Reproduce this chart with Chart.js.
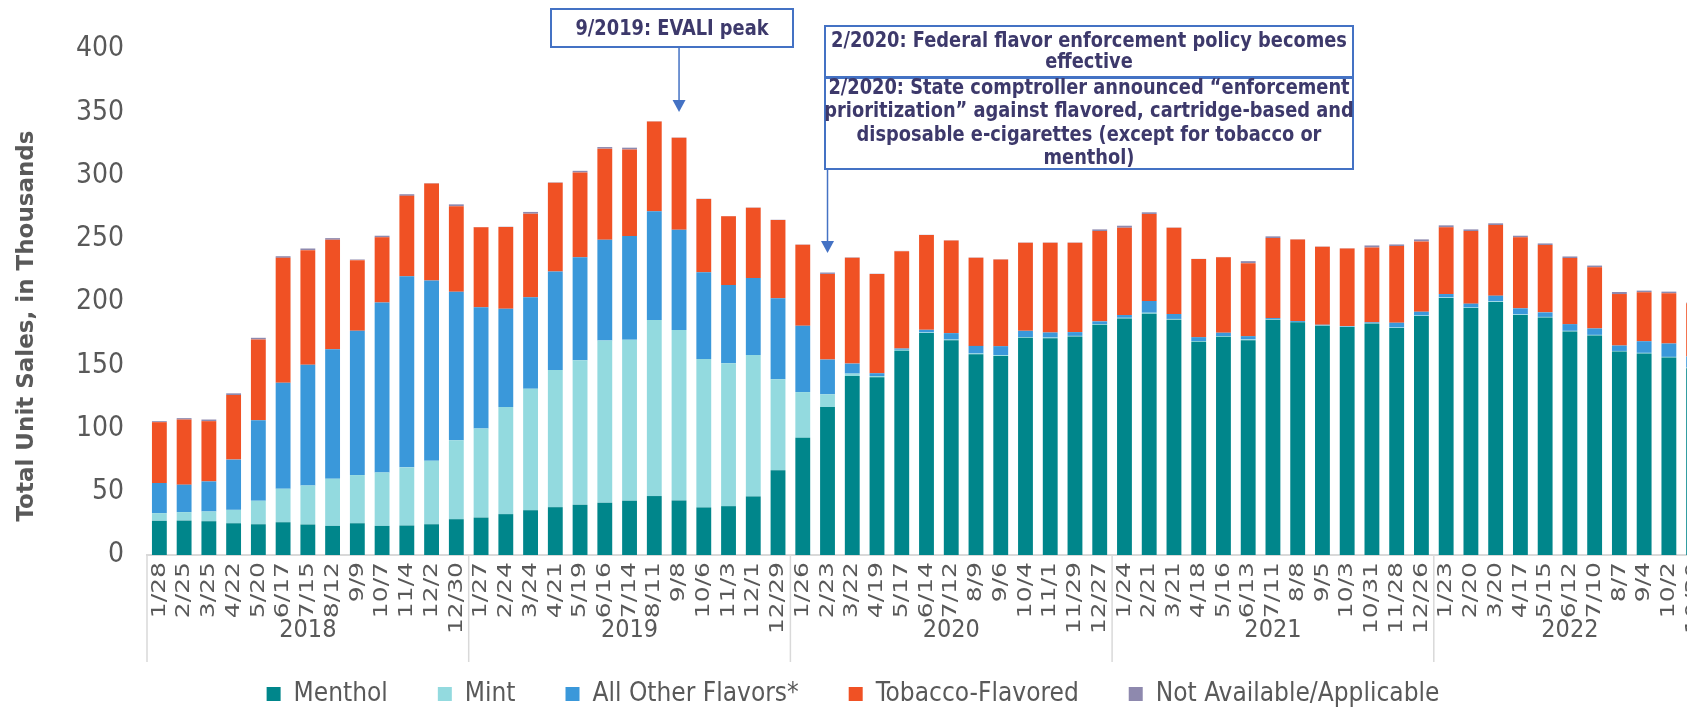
<!DOCTYPE html>
<html>
<head>
<meta charset="utf-8">
<script src="https://cdn.jsdelivr.net/npm/chart.js@4.4.1/dist/chart.umd.min.js"></script>
<style>
  html, body { margin: 0; padding: 0; background: #fff; overflow: hidden; }
  #frame { position: relative; width: 1687px; height: 708px; overflow: hidden; }
  #wrap { position: absolute; left: 0; top: 0; width: 1720px; height: 717px; }
</style>
</head>
<body>
<div id="frame"><div id="wrap"><canvas id="salesChart"></canvas></div></div>
<script>
// 4-week periods, grouped by year
var dates = [
  '1/28', '2/25', '3/25', '4/22', '5/20', '6/17', '7/15', '8/12', '9/9', '10/7', '11/4', '12/2', '12/30',
  '1/27', '2/24', '3/24', '4/21', '5/19', '6/16', '7/14', '8/11', '9/8', '10/6', '11/3', '12/1', '12/29',
  '1/26', '2/23', '3/22', '4/19', '5/17', '6/14', '7/12', '8/9', '9/6', '10/4', '11/1', '11/29', '12/27',
  '1/24', '2/21', '3/21', '4/18', '5/16', '6/13', '7/11', '8/8', '9/5', '10/3', '10/31', '11/28', '12/26',
  '1/23', '2/20', '3/20', '4/17', '5/15', '6/12', '7/10', '8/7', '9/4', '10/2', '10/30'
];
var years = ['2018', '2019', '2020', '2021', '2022'];
var periodsPerYear = [13, 13, 13, 13, 11];

// unit sales, thousands
var menthol = [
  27.0, 27.2, 26.7, 25.1, 24.3, 25.9, 24.1, 23.0, 25.1, 23.0, 23.3, 24.3, 28.3,
  29.6, 32.3, 35.4, 37.8, 39.7, 41.3, 42.9, 46.6, 43.1, 37.6, 38.6, 46.3, 66.9,
  92.6, 116.9, 141.5, 140.5, 161.4, 175.4, 169.8, 158.7, 157.4, 171.7, 171.4, 172.8, 182.0,
  187.0, 190.7, 186.0, 168.5, 172.5, 169.8, 186.0, 183.9, 181.2, 180.2, 183.1, 179.4, 188.9,
  203.2, 195.2, 200.0, 189.7, 187.8, 176.7, 173.5, 160.8, 159.3, 156.1, 147.6
];
var mint = [
  6.1, 6.7, 7.7, 10.6, 18.6, 26.5, 30.9, 37.3, 38.1, 42.3, 46.0, 50.3, 62.4,
  70.4, 84.6, 96.1, 108.5, 114.3, 128.3, 127.2, 139.1, 134.7, 117.4, 113.0, 111.9, 72.0,
  36.2, 10.1, 1.9, 1.0, 0.8, 0.5, 0.5, 0.6, 0.7, 0.6, 0.5, 0.4, 0.5,
  0.5, 0.8, 0.6, 0.6, 0.6, 0.6, 0.4, 0.3, 0.3, 0.3, 0.3, 0.4, 0.4,
  0.4, 0.4, 0.5, 0.5, 0.4, 0.5, 0.5, 0.5, 0.5, 0.5, 0.5
];
var otherFlavors = [
  23.8, 21.7, 23.8, 39.7, 63.7, 83.8, 95.3, 102.4, 114.0, 134.4, 151.1, 142.3, 117.5,
  95.8, 77.8, 72.2, 77.8, 81.4, 79.6, 82.0, 86.0, 79.3, 68.5, 61.9, 60.8, 64.0,
  52.4, 27.5, 7.9, 2.2, 1.0, 2.1, 5.1, 6.0, 7.0, 4.9, 4.0, 3.0, 2.2,
  2.2, 9.3, 3.9, 3.1, 2.6, 2.6, 0.9, 0.7, 0.5, 0.5, 0.5, 3.8, 3.0,
  2.7, 3.1, 4.5, 4.8, 3.6, 5.3, 5.1, 4.3, 9.2, 10.6, 8.8
];
var tobacco = [
  48.1, 51.5, 47.6, 51.1, 63.8, 98.7, 90.7, 86.5, 55.9, 51.4, 63.5, 76.8, 67.5,
  63.2, 64.6, 66.1, 70.1, 67.0, 72.0, 68.5, 70.9, 72.8, 58.0, 54.2, 55.6, 61.9,
  64.0, 67.7, 83.6, 78.5, 77.0, 74.9, 73.3, 69.6, 68.5, 69.6, 70.9, 70.6, 71.4,
  69.0, 68.8, 68.2, 61.7, 59.7, 57.7, 63.2, 64.6, 61.7, 61.3, 59.2, 60.6, 55.6,
  52.7, 57.4, 55.8, 56.1, 53.2, 52.2, 48.4, 40.7, 38.7, 39.7, 42.1
];
var notAvailable = [
  0.8, 1.1, 1.3, 1.3, 1.3, 1.3, 1.3, 1.3, 0.5, 1.3, 1.3, 0.3, 1.5,
  0.2, 0.2, 1.4, 0.3, 1.3, 1.3, 1.4, 0.2, 0.2, 0.2, 0.2, 0.2, 0.2,
  0.2, 1.1, 0.3, 0.2, 0.2, 0.2, 0.2, 0.2, 0.2, 0.2, 0.2, 0.2, 1.3,
  1.6, 1.3, 0.2, 0.2, 0.2, 1.6, 1.4, 0.2, 0.2, 0.2, 1.6, 1.3, 1.6,
  1.6, 1.3, 1.4, 1.3, 1.3, 1.3, 1.3, 1.6, 1.3, 1.3, 0.5
];

var yTicks = [0, 50, 100, 150, 200, 250, 300, 350, 400];

// callouts: text lines + index of the bar the arrow points at
var evaliNote = { lines: ['9/2019: EVALI peak'], arrowAt: 21 };
var federalNote = { lines: ['2/2020: Federal flavor enforcement policy becomes', 'effective'] };
var stateNote = {
  lines: [
    '2/2020: State comptroller announced \u201cenforcement',
    'prioritization\u201d against flavored, cartridge-based and',
    'disposable e-cigarettes (except for tobacco or',
    'menthol)'
  ],
  arrowAt: 27
};

var narrow = "'Liberation Sans Narrow', 'DejaVu Sans Condensed', 'Roboto Condensed', sans-serif";
var wide = "'DejaVu Sans', Verdana, sans-serif";
var grey = '#595959';
var noteColor = '#3d396b';
var noteBorder = '#4472c4';

function arrowDown(ctx, x, y0, y1) {
  ctx.strokeStyle = noteBorder;
  ctx.fillStyle = noteBorder;
  ctx.lineWidth = 1.5;
  ctx.beginPath();
  ctx.moveTo(x, y0);
  ctx.lineTo(x, y1 - 10);
  ctx.stroke();
  ctx.beginPath();
  ctx.moveTo(x - 6.5, y1 - 12);
  ctx.lineTo(x + 6.5, y1 - 12);
  ctx.lineTo(x, y1);
  ctx.closePath();
  ctx.fill();
}

function noteBox(ctx, x, y, w, h, lines, firstY, lineH) {
  ctx.fillStyle = '#fff';
  ctx.fillRect(x, y, w, h);
  ctx.strokeStyle = noteBorder;
  ctx.lineWidth = 2;
  ctx.strokeRect(x, y, w, h);
  ctx.fillStyle = noteColor;
  ctx.font = 'bold 22px ' + narrow;
  ctx.textAlign = 'center';
  ctx.textBaseline = 'middle';
  lines.forEach(function (t, i) {
    // squeeze horizontally, the original lettering is very condensed
    ctx.save();
    ctx.translate(x + w / 2, firstY + i * lineH);
    ctx.scale(0.9, 1);
    ctx.fillText(t, 0, 0);
    ctx.restore();
  });
}

var extras = {
  id: 'extras',
  afterDraw: function (chart) {
    var ctx = chart.ctx;
    var xs = chart.scales.x;
    var step = xs.getPixelForValue(1) - xs.getPixelForValue(0);
    ctx.save();

    // date labels, vertical and a little stretched like the original
    ctx.fillStyle = grey;
    ctx.font = '20px ' + wide;
    ctx.textAlign = 'right';
    ctx.textBaseline = 'middle';
    dates.forEach(function (d, i) {
      ctx.save();
      ctx.translate(xs.getPixelForValue(i), xs.top + 7);
      ctx.rotate(-Math.PI / 2);
      ctx.scale(1.25, 1);
      ctx.fillText(d, 0, 0);
      ctx.restore();
    });

    // year dividers and year labels under the date labels
    var start = 0;
    ctx.strokeStyle = '#d9d9d9';
    ctx.lineWidth = 1.5;
    for (var g = 0; g <= years.length; g++) {
      var bx = xs.getPixelForValue(start) - step / 2;
      ctx.beginPath();
      ctx.moveTo(bx, xs.top);
      ctx.lineTo(bx, 662);
      ctx.stroke();
      if (g < years.length) {
        var mid = bx + periodsPerYear[g] * step / 2;
        ctx.fillStyle = grey;
        ctx.font = '25px ' + narrow;
        ctx.textAlign = 'center';
        ctx.textBaseline = 'middle';
        ctx.fillText(years[g], mid, 630);
        start += periodsPerYear[g];
      }
    }

    // y axis title
    ctx.save();
    ctx.translate(27, 326);
    ctx.rotate(-Math.PI / 2);
    ctx.fillStyle = grey;
    ctx.font = 'bold 23px ' + wide;
    ctx.textAlign = 'center';
    ctx.textBaseline = 'middle';
    ctx.fillText('Total Unit Sales, in Thousands', 0, 0);
    ctx.restore();

    // callouts
    var ax1 = xs.getPixelForValue(evaliNote.arrowAt);
    arrowDown(ctx, ax1, 47, 112);
    noteBox(ctx, 551, 9, 242, 38, evaliNote.lines, 29, 22);

    var ax2 = xs.getPixelForValue(stateNote.arrowAt);
    arrowDown(ctx, ax2, 169, 253);
    noteBox(ctx, 825, 26, 528, 51, federalNote.lines, 41, 21.5);
    noteBox(ctx, 825, 78, 528, 91, stateNote.lines, 88, 23.4);

    ctx.restore();
  }
};

var ctx = document.getElementById('salesChart').getContext('2d');
var salesChart = new Chart(ctx, {
  type: 'bar',
  data: {
    labels: dates,
    datasets: [
      { label: 'Menthol', data: menthol, backgroundColor: '#00868b' },
      { label: 'Mint', data: mint, backgroundColor: '#93dadf' },
      { label: 'All Other Flavors*', data: otherFlavors, backgroundColor: '#3a98da' },
      { label: 'Tobacco-Flavored', data: tobacco, backgroundColor: '#f05124' },
      { label: 'Not Available/Applicable', data: notAvailable, backgroundColor: '#8e89ae' }
    ]
  },
  options: {
    responsive: true,
    maintainAspectRatio: false,
    animation: false,
    layout: { padding: { top: 49, left: 0, right: 14, bottom: 0 } },
    datasets: {
      bar: { categoryPercentage: 1, barPercentage: 0.6, borderWidth: 0 }
    },
    plugins: {
      tooltip: { enabled: false },
      legend: {
        display: true,
        position: 'bottom',
        labels: {
          color: grey,
          boxWidth: 14,
          boxHeight: 14,
          padding: 50,
          font: { family: narrow, size: 26 }
        }
      }
    },
    scales: {
      x: {
        stacked: true,
        grid: { display: false, drawTicks: false },
        border: { display: true, color: '#d9d9d9', width: 2 },
        ticks: { display: false, autoSkip: false },
        afterFit: function (scale) { scale.height = 76; }
      },
      y: {
        stacked: true,
        min: 0,
        max: 400,
        afterBuildTicks: function (scale) {
          scale.ticks = yTicks.map(function (v) { return { value: v }; });
        },
        grid: { display: false, drawTicks: false },
        border: { display: false },
        ticks: {
          padding: 23,
          color: grey,
          font: { family: narrow, size: 28 }
        },
        afterFit: function (scale) { scale.width = 147; }
      }
    }
  },
  plugins: [extras]
});
</script>
</body>
</html>
